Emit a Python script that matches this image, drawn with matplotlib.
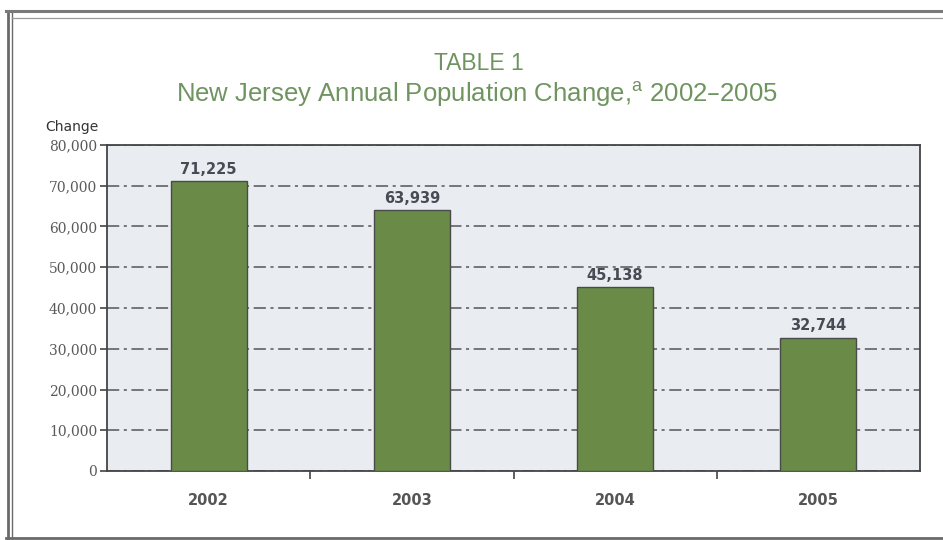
import matplotlib
matplotlib.use("Agg")
import matplotlib.pyplot as plt
from matplotlib.lines import Line2D
from matplotlib.ticker import FuncFormatter

years = ["2002", "2003", "2004", "2005"]
changes = [71225, 63939, 45138, 32744]
y_ticks = [0, 10000, 20000, 30000, 40000, 50000, 60000, 70000, 80000]

W, H = 943, 540
fig = plt.figure(figsize=(W / 100, H / 100), dpi=100)
fig.patch.set_facecolor("white")

def fx(px):
    return px / W

def fy(py):
    return 1 - py / H

# page frame (double rule)
for x in (8, 12):
    fig.add_artist(Line2D([fx(x), fx(x)], [fy(11), fy(538)], color="#6a6a6a",
                          lw=2.0 if x == 8 else 1.0, transform=fig.transFigure))
fig.add_artist(Line2D([fx(6), 1.0], [fy(11), fy(11)], color="#7a7a7a", lw=2.2,
                      transform=fig.transFigure))
fig.add_artist(Line2D([fx(12), 1.0], [fy(18), fy(18)], color="#9a9a9a", lw=0.9,
                      transform=fig.transFigure))
fig.add_artist(Line2D([fx(6), 1.0], [fy(538), fy(538)], color="#6a6a6a", lw=2.0,
                      transform=fig.transFigure))

title_color = "#6f9460"
fig.text(fx(479), fy(64), "TABLE 1", ha="center", va="center",
         fontsize=16.5, color=title_color, family="Liberation Sans")
fig.text(fx(477), fy(94), r"New Jersey Annual Population Change,$^{\mathregular{a}}$ 2002–2005",
         ha="center", va="center", fontsize=18.5, color=title_color,
         family="Liberation Sans")
fig.text(fx(45), fy(127), "Change", ha="left", va="center", fontsize=10,
         color="#333333", family="DejaVu Sans")

ax = fig.add_axes([fx(107), fy(471), fx(920) - fx(107), (471 - 145) / H])
ax.set_facecolor("#e9edf1")

xs = list(range(len(years)))
ax.bar(xs, changes, width=0.375, color="#6a8a48", edgecolor="#4a4a4a",
       linewidth=1.0, zorder=3)
for x, v in zip(xs, changes):
    ax.text(x, v + 1000, f"{v:,}", ha="center", va="bottom", fontsize=10.5,
            fontweight="bold", color="#4a4a55", family="DejaVu Sans")

ax.set_xlim(-0.5, len(years) - 0.5)
ax.set_ylim(0, 80000)
ax.set_yticks(y_ticks)
ax.yaxis.set_major_formatter(FuncFormatter(lambda v, p: f"{int(v):,}"))
ax.tick_params(axis="y", labelsize=10, labelcolor="#5a5a5a", colors="#444444",
               length=5, width=1.2, direction="out", pad=2)
for lab in ax.get_yticklabels():
    lab.set_family("DejaVu Serif")

ax.grid(axis="y", color="#555555", linestyle=(0, (8, 3, 2, 3)), linewidth=1.1, zorder=1)
ax.set_axisbelow(True)

ax.set_xticks([x + 0.5 for x in xs[:-1]])
ax.set_xticklabels([])
ax.tick_params(axis="x", length=6, width=1.2, colors="#444444", direction="out")
for x, yr in zip(xs, years):
    ax.text(x, -0.09, yr, transform=ax.get_xaxis_transform(), ha="center",
            va="center", fontsize=10.5, fontweight="bold", color="#555555",
            family="DejaVu Sans")

for side in ("left", "bottom", "right", "top"):
    ax.spines[side].set_color("#444444")
    ax.spines[side].set_linewidth(1.3)

fig.savefig("out.png", dpi=100)
